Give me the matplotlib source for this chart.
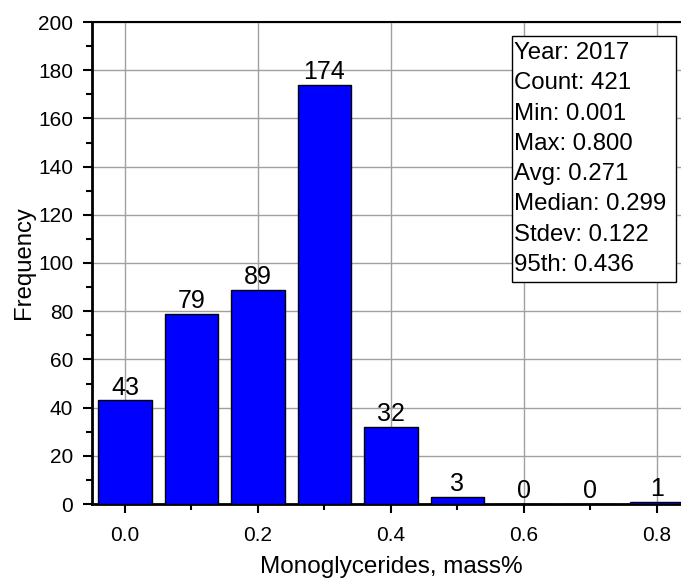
import matplotlib
matplotlib.use("Agg")
import matplotlib.pyplot as plt
from matplotlib.patches import Rectangle
from matplotlib.ticker import MultipleLocator, FormatStrFormatter

plt.rcParams['font.family'] = ['Liberation Sans', 'DejaVu Sans']

bin_centers = [0.0, 0.1, 0.2, 0.3, 0.4, 0.5, 0.6, 0.7, 0.8]
counts = [43, 79, 89, 174, 32, 3, 0, 0, 1]
stats_lines = ["Year: 2017", "Count: 421", "Min: 0.001", "Max: 0.800",
               "Avg: 0.271", "Median: 0.299", "Stdev: 0.122", "95th: 0.436"]

W, H = 681, 578
fig = plt.figure(figsize=(W / 100, H / 100), dpi=100)
x0_px, x1_px = 92, 125 + 0.85 * 665
ax = fig.add_axes([x0_px / W, (H - 504) / H, (x1_px - x0_px) / W, (504 - 22) / H])

ax.bar(bin_centers, counts, width=0.08, color='#0000FF', edgecolor='black', linewidth=1.0, zorder=3)
for x, c in zip(bin_centers, counts):
    ax.text(x, c + 0.3, str(c), ha='center', va='bottom', fontsize=18, zorder=4)

ax.set_xlim(-0.0496, 0.85)
ax.set_ylim(0, 200)
ax.xaxis.set_major_locator(MultipleLocator(0.2))
ax.xaxis.set_minor_locator(MultipleLocator(0.1))
ax.yaxis.set_major_locator(MultipleLocator(20))
ax.yaxis.set_minor_locator(MultipleLocator(10))
ax.xaxis.set_major_formatter(FormatStrFormatter('%.1f'))
ax.tick_params(axis='both', which='major', direction='out', length=6.5, width=1.5, labelsize=15)
ax.tick_params(axis='both', which='minor', direction='out', length=4, width=1.5)
ax.tick_params(axis='x', which='major', pad=9)
ax.tick_params(axis='y', which='major', pad=7)
ax.grid(True, which='major', color='#A0A0A0', linewidth=1.0, zorder=0)
ax.set_axisbelow(True)
for s in ['left', 'bottom']:
    ax.spines[s].set_linewidth(2.0)
ax.spines['top'].set_linewidth(1.5)
ax.spines['right'].set_linewidth(1.5)

ax.set_xlabel("Monoglycerides, mass%", fontsize=17.5, labelpad=8)
ax.set_ylabel("Frequency", fontsize=17.2, labelpad=2)

# stats box (figure pixel coordinates)
bx0, bx1, by0, by1 = 512, 676, 36, 282
rect = Rectangle((bx0 / W, 1 - by1 / H), (bx1 - bx0) / W, (by1 - by0) / H,
                 transform=fig.transFigure, facecolor='white', edgecolor='black',
                 linewidth=1.0, zorder=5)
fig.patches.append(rect)
for i, line in enumerate(stats_lines):
    yc = 53 + i * 30.3
    fig.text(514 / W, 1 - yc / H, line, ha='left', va='center', fontsize=17.3, zorder=6)

fig.savefig("out.png", dpi=100)
